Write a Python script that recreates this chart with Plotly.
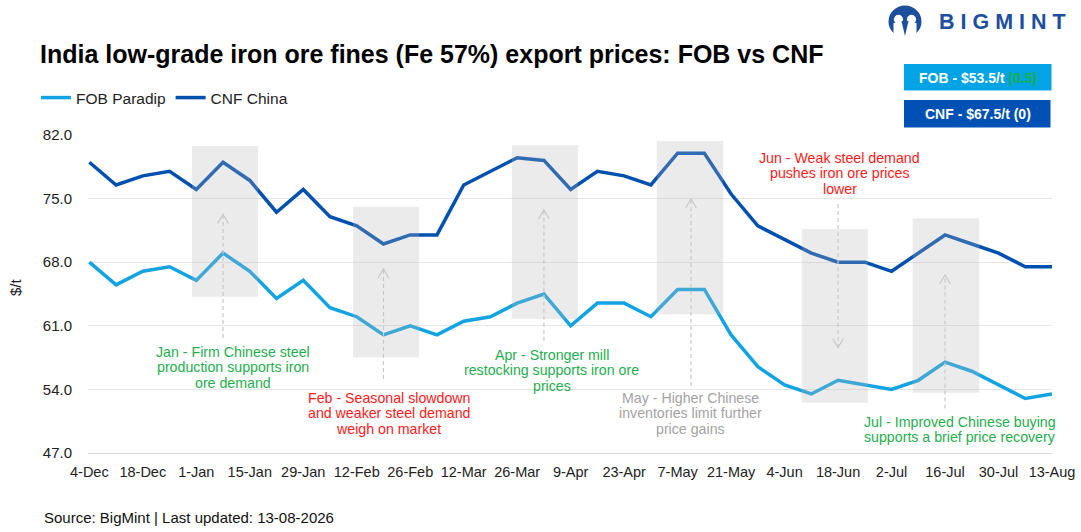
import plotly.graph_objects as go

# weekly assessments, Dec-2025 to Aug-2026
weeks = [
    "4-Dec", "11-Dec", "18-Dec", "25-Dec", "1-Jan", "8-Jan", "15-Jan", "22-Jan", "29-Jan",
    "5-Feb", "12-Feb", "19-Feb", "26-Feb", "5-Mar", "12-Mar", "19-Mar", "26-Mar",
    "2-Apr", "9-Apr", "16-Apr", "23-Apr", "30-Apr", "7-May", "14-May", "21-May", "28-May",
    "4-Jun", "11-Jun", "18-Jun", "25-Jun", "2-Jul", "9-Jul", "16-Jul", "23-Jul", "30-Jul",
    "6-Aug", "13-Aug",
]
fob_paradip = [68, 65.5, 67, 67.5, 66, 69, 67, 64, 66, 63, 62, 60, 61, 60, 61.5, 62, 63.5,
               64.5, 61, 63.5, 63.5, 62, 65, 65, 60, 56.5, 54.5, 53.5, 55, 54.5, 54, 55, 57,
               56, 54.5, 53, 53.5]
cnf_china = [79, 76.5, 77.5, 78, 76, 79, 77, 73.5, 76, 73, 72, 70, 71, 71, 76.5, 78, 79.5,
             79.2, 76, 78, 77.5, 76.5, 80, 80, 75.5, 72, 70.5, 69, 68, 68, 67, 69, 71, 70,
             69, 67.5, 67.5]
y_ticks = [47, 54, 61, 68, 75, 82]
tick_labels = weeks[::2]

event_texts = [
    ["Jan - Firm Chinese steel", "production supports iron", "ore demand"],
    ["Feb - Seasonal slowdown", "and weaker steel demand", "weigh on market"],
    ["Apr - Stronger mill", "restocking supports iron ore", "prices"],
    ["May - Higher Chinese", "inventories limit further", "price gains"],
    ["Jun - Weak steel demand", "pushes iron ore prices", "lower"],
    ["Jul - Improved Chinese buying", "supports a brief price recovery"],
]

FOB_BLUE = "#12a3e3"
CNF_BLUE = "#0050b0"
GREEN = "#1fae4f"
RED = "#ff1a1a"
GREY_TXT = "#a3a3a3"
FONT = "Liberation Sans, Arial, sans-serif"

# plot area in pixels
L, R, T, B = 88, 1052, 135, 453
W, H = 1081, 532


def px(x):
    return (x - L) / (R - L)


def py(y):
    return (B - y) / (B - T)


def note(fig, x, y, text, size, color, **kw):
    # paper-positioned text given in page pixels
    fig.add_annotation(xref="paper", yref="paper", x=px(x), y=py(y), text=text,
                       showarrow=False, xanchor=kw.pop("xanchor", "center"), yanchor="middle",
                       font=dict(size=size, color=color, family=FONT), **kw)


x_idx = list(range(len(weeks)))

fig = go.Figure()
fig.add_trace(go.Scatter(x=x_idx, y=fob_paradip, name="FOB Paradip", mode="lines",
                         line=dict(color=FOB_BLUE, width=3.5)))
fig.add_trace(go.Scatter(x=x_idx, y=cnf_china, name="CNF China", mode="lines",
                         line=dict(color=CNF_BLUE, width=3.5)))

# shaded event windows (x0, x1, y0, y1) in data units
windows = [(3.84, 6.31, 64.2, 80.8), (9.86, 12.33, 57.5, 74.1), (15.8, 18.27, 61.75, 80.9),
           (21.22, 23.7, 62.27, 81.34), (26.64, 29.11, 52.54, 71.65), (30.79, 33.28, 53.64, 72.83)]
for x0, x1, y0, y1 in windows:
    fig.add_shape(type="rect", x0=x0, x1=x1, y0=y0, y1=y1, xref="x", yref="y",
                  fillcolor="rgba(180,180,180,0.27)", line_width=0, layer="above")

# dashed pointer arrows (x, tail y, tip y)
arrows = [(5, 59.66, 73.27), (11, 55.15, 67.25), (17, 59.36, 73.75),
          (22.5, 54.37, 74.96), (28, 74.4, 58.6), (32, 51.9, 66.6)]
for x, ys, ye in arrows:
    fig.add_shape(type="line", x0=x, x1=x, y0=ys, y1=ye, xref="x", yref="y",
                  line=dict(color="#c8c8c8", width=1.2, dash="4px,3px"), layer="above")
    d = -1.0 if ye > ys else 1.0
    fig.add_shape(type="path", xref="x", yref="y",
                  path=f"M {x - 0.2},{ye + d} L {x},{ye} L {x + 0.2},{ye + d}",
                  line=dict(color="#c8c8c8", width=1.2), layer="above")

# event labels: centre x (week), first line y (pixel), colour
label_pos = [(5.38, 352, GREEN), (11.2, 398, RED), (17.3, 355, GREEN),
             (22.47, 398, GREY_TXT), (28.07, 158, RED), (32.56, 422, GREEN)]
for lines, (x, y0, col) in zip(event_texts, label_pos):
    for i, ln in enumerate(lines):
        fig.add_annotation(x=x, xref="x", y=py(y0 + 15.3 * i), yref="paper", text=ln,
                           showarrow=False, font=dict(size=14.2, color=col, family=FONT),
                           xanchor="center", yanchor="middle")

# price boxes top right
fig.add_shape(type="rect", xref="paper", yref="paper", x0=px(904), x1=px(1051.5),
              y0=py(90.5), y1=py(64), fillcolor="#02a4e6", line_width=0)
fig.add_shape(type="rect", xref="paper", yref="paper", x0=px(904), x1=px(1050.5),
              y0=py(127.5), y1=py(100), fillcolor="#0051b3", line_width=0)
note(fig, 977.5, 77.5, "<b>FOB - $53.5/t <span style='color:#19b04b'>(0.5)</span></b>",
     14, "white")
note(fig, 977.5, 114, "<b>CNF - $67.5/t (0)</b>", 14, "white")

# BigMint logo
LOGO = "#1c4f9d"
fig.add_shape(type="circle", xref="paper", yref="paper", x0=px(888.5), x1=px(921.5),
              y0=py(37.5), y1=py(5.5), fillcolor=LOGO, line_width=0)
fig.add_shape(type="rect", xref="paper", yref="paper", x0=px(893.5), x1=px(916.5),
              y0=py(39), y1=py(23), fillcolor="white", line_width=0)
for cx in (898.5, 911.5):
    fig.add_shape(type="circle", xref="paper", yref="paper", x0=px(cx - 4.6), x1=px(cx + 4.6),
                  y0=py(24), y1=py(14.8), fillcolor="white", line_width=0)
fig.add_shape(type="path", xref="paper", yref="paper",
              path=f"M {px(901.5)},{py(21)} L {px(905)},{py(36)} L {px(908.5)},{py(21)} Z",
              fillcolor=LOGO, line_width=0)
note(fig, 1002, 22, "<b>B I G M I N T</b>", 21.5, LOGO)

# y axis title and source
note(fig, 15, 287, "$/t", 15, "#222", textangle=-90)
note(fig, 42, 517, "Source: BigMint | Last updated: 13-08-2026", 15, "#111", xanchor="left")

fig.update_layout(
    width=W,
    height=H,
    margin=dict(l=L, r=W - R, t=T, b=H - B, autoexpand=False),
    paper_bgcolor="white",
    plot_bgcolor="white",
    font=dict(family=FONT, color="#222"),
    title=dict(text="<b>India low-grade iron ore fines (Fe 57%) export prices: FOB vs CNF</b>",
               x=40 / W, xanchor="left", y=1 - 54 / H, yanchor="middle",
               font=dict(size=25, color="black", family=FONT)),
    showlegend=True,
    legend=dict(orientation="h", x=px(36), xanchor="left", y=py(98), yanchor="middle",
                font=dict(size=15.5, color="#222"), bgcolor="rgba(0,0,0,0)",
                itemwidth=30, tracegroupgap=0),
    xaxis=dict(range=[-0.05, 36], tickvals=x_idx[::2], ticktext=tick_labels,
               showgrid=False, zeroline=False, showline=True, linecolor="#d9d9d9",
               linewidth=1, ticks="outside", ticklen=6, tickcolor="rgba(0,0,0,0)",
               tickfont=dict(size=14.5, color="#222"), automargin=False),
    yaxis=dict(range=[47, 82], tickvals=y_ticks, ticktext=[f"{v:.1f}" for v in y_ticks],
               showgrid=True, gridcolor="#e6e6e6", gridwidth=1, zeroline=False,
               ticks="outside", ticklen=12, tickcolor="rgba(0,0,0,0)",
               tickfont=dict(size=15, color="#222"), automargin=False),
)

fig.write_html("out.html", config={"displayModeBar": False},
               post_script="document.body.style.margin='0';")
